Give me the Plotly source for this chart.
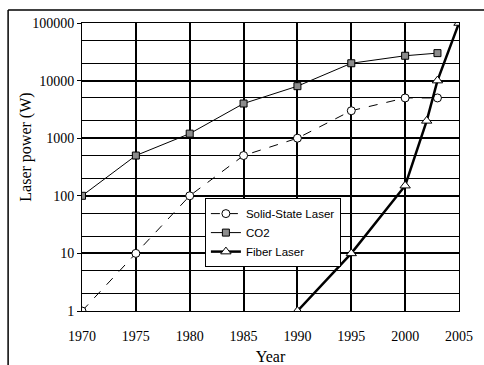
import plotly.graph_objects as go

ss_years = [1970, 1975, 1980, 1985, 1990, 1995, 2000, 2003]
ss_power = [1, 10, 100, 500, 1000, 3000, 5000, 5000]
co2_years = [1970, 1975, 1980, 1985, 1990, 1995, 2000, 2003]
co2_power = [100, 500, 1200, 4000, 8000, 20000, 27000, 30000]
fiber_years = [1990, 1995, 2000, 2002, 2003, 2005]
fiber_power = [1, 10, 150, 2000, 10000, 100000]

x_ticks = [1970, 1975, 1980, 1985, 1990, 1995, 2000, 2005]
y_ticks = [1, 10, 100, 1000, 10000, 100000]
y_tick_labels = ["1", "10", "100", "1000", "10000", "100000"]

serif = "Liberation Serif"
sans = "Liberation Sans"

fig = go.Figure()
fig.add_trace(go.Scatter(
    x=ss_years, y=ss_power, name="Solid-State Laser", mode="lines+markers",
    line=dict(color="black", width=1, dash="dash"),
    marker=dict(symbol="circle", size=8, color="white", line=dict(color="black", width=1)),
))
fig.add_trace(go.Scatter(
    x=co2_years, y=co2_power, name="CO2", mode="lines+markers",
    line=dict(color="black", width=1),
    marker=dict(symbol="square", size=7, color="#8c8c8c", line=dict(color="black", width=1)),
))
fig.add_trace(go.Scatter(
    x=fiber_years, y=fiber_power, name="Fiber Laser", mode="lines+markers",
    line=dict(color="black", width=2.5),
    marker=dict(symbol="triangle-up", size=9, color="white", line=dict(color="black", width=1)),
))

fig.update_layout(
    width=484, height=365,
    margin=dict(l=82, r=25, t=23, b=54),
    paper_bgcolor="white", plot_bgcolor="white",
    font=dict(family=serif, size=14, color="black"),
    showlegend=True,
    legend=dict(
        x=0.326, y=0.392, xanchor="left", yanchor="top",
        bgcolor="white", bordercolor="black", borderwidth=1,
        font=dict(family=sans, size=11.5, color="black"),
        tracegroupgap=0, itemwidth=30,
    ),
    shapes=[
        dict(type="line", xref="paper", yref="paper", x0=-0.196, x1=1.07, y0=1.045, y1=1.045,
             line=dict(color="black", width=1.5)),
        dict(type="line", xref="paper", yref="paper", x0=-0.196, x1=-0.196, y0=1.045, y1=-0.19,
             line=dict(color="black", width=1.5)),
    ],
    annotations=[
        dict(text="Laser power (W)", xref="paper", yref="paper", x=-0.149, y=0.57,
             textangle=-90, showarrow=False, xanchor="center", yanchor="middle",
             font=dict(family=serif, size=16, color="black")),
    ],
)
fig.update_xaxes(
    range=[1970, 2005], tickvals=x_ticks, ticktext=[str(v) for v in x_ticks],
    showgrid=True, gridcolor="black", gridwidth=1.5,
    showline=True, linecolor="black", linewidth=1, mirror=True,
    ticks="", zeroline=False, automargin=False, ticklabelstandoff=12,
    title=dict(text="Year", font=dict(family=serif, size=16), standoff=8),
)
fig.update_yaxes(
    type="log", range=[0, 5], tickvals=y_ticks, ticktext=y_tick_labels,
    showgrid=True, gridcolor="black", gridwidth=1.5,
    showline=True, linecolor="black", linewidth=1, mirror=True,
    ticks="outside", ticklen=4, tickcolor="black", automargin=False,
    minor=dict(showgrid=True, gridcolor="black", gridwidth=1, ticks=""),
)

fig.write_html("out.html", config={"displayModeBar": False},
               post_script="document.body.style.margin='0';document.body.style.overflow='hidden';")
